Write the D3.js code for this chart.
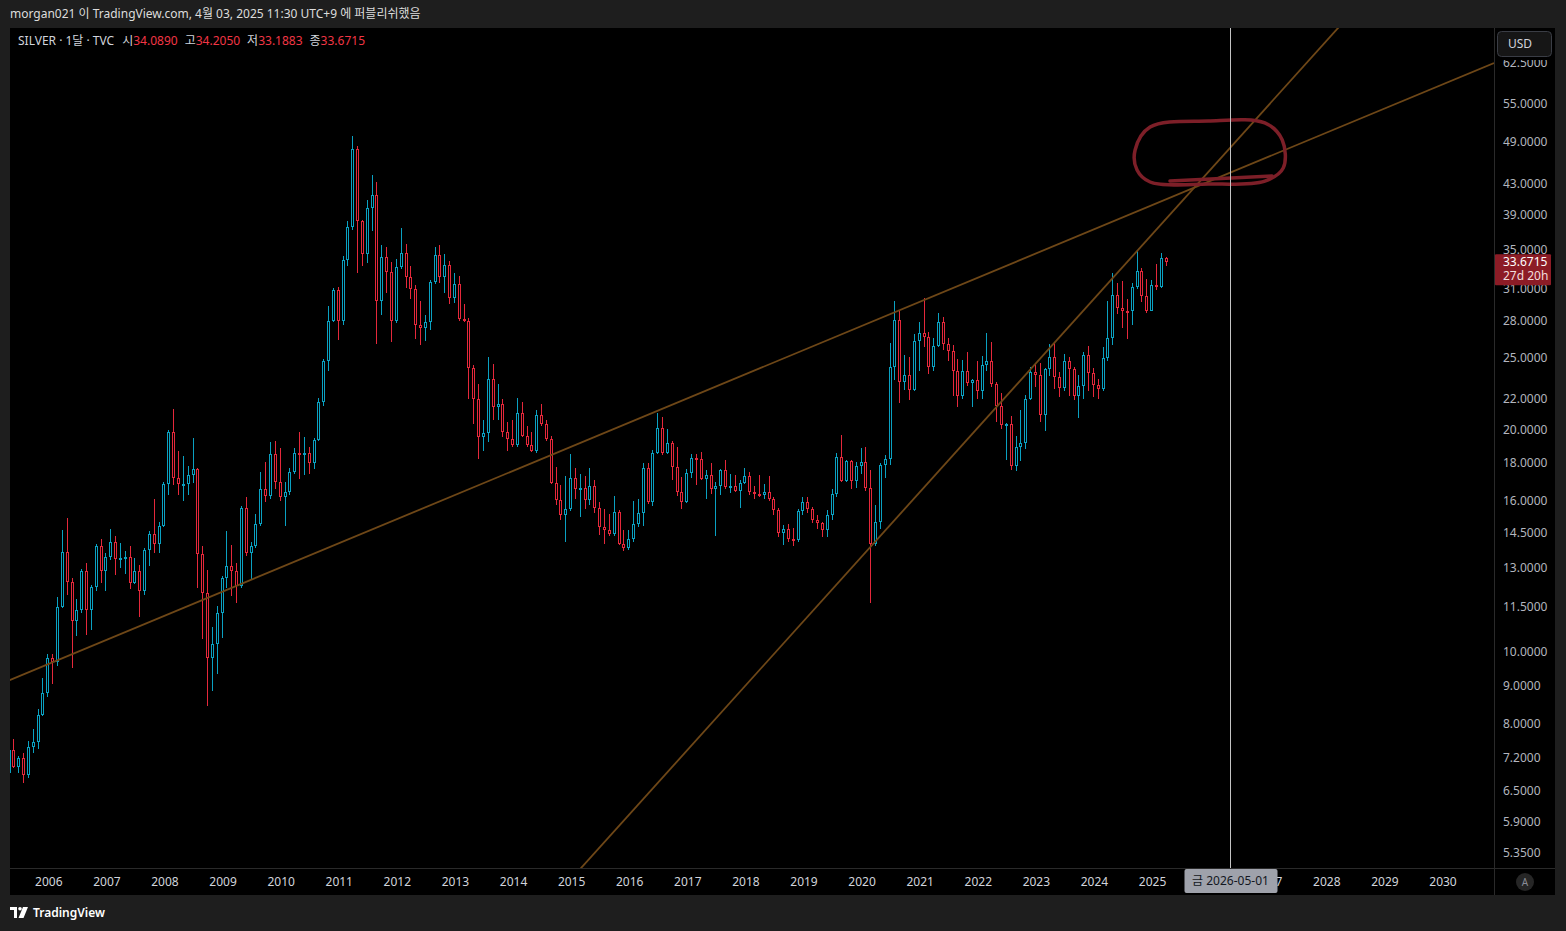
<!DOCTYPE html>
<html>
<head>
<meta charset="utf-8">
<script src="https://cdn.jsdelivr.net/npm/d3@7"></script>
<style>
  html, body { margin: 0; padding: 0; background: #1e1e1e; overflow: hidden; }
  svg { display: block; font-family: "Noto Sans", "Noto Sans CJK KR", sans-serif; }
</style>
</head>
<body>
<div id="chart"></div>
<script>
// Monthly candles of TVC:SILVER, first bar = 2005-05 (month index -8, 0 = Jan 2006)
const firstIndex = -8;

const opens = [
  6.87, 7.37, 7.00, 7.20, 6.81, 7.43, 7.56, 8.22,
  8.80, 9.82, 9.68, 11.50, 13.65, 12.45, 11.00, 11.40, 12.85, 11.40, 12.24, 13.90,
  12.85, 13.45, 14.10, 13.35, 13.40, 13.45, 12.40, 12.85, 12.10, 13.75, 14.45, 14.00,
  14.80, 16.85, 19.80, 17.20, 16.85, 16.85, 17.33, 17.65, 13.55, 12.00, 9.80, 10.25,
  11.30, 12.60, 13.07, 12.88, 12.29, 15.65, 13.60, 13.90, 14.90, 16.60, 16.25, 18.50,
  16.95, 16.20, 16.45, 17.50, 18.60, 18.45, 18.55, 18.00, 19.35, 21.80, 24.70, 28.00,
  30.85, 28.00, 33.85, 37.50, 47.80, 38.25, 34.55, 39.80, 41.45, 29.80, 34.20, 32.60,
  28.00, 33.10, 34.60, 32.15, 30.90, 27.70, 27.40, 27.90, 31.60, 34.40, 32.10, 33.30,
  30.10, 31.40, 28.20, 28.00, 24.20, 22.00, 19.50, 19.75, 23.40, 21.45, 21.65, 19.80,
  19.40, 19.05, 21.05, 19.60, 19.05, 18.70, 20.90, 20.30, 19.40, 16.90, 16.05, 15.30,
  15.60, 17.20, 16.60, 16.65, 16.05, 16.75, 15.65, 14.75, 14.60, 14.45, 15.45, 14.00,
  13.80, 14.20, 14.90, 15.40, 17.75, 15.95, 18.60, 20.10, 18.55, 19.15, 17.80, 16.45,
  15.95, 17.45, 18.30, 18.25, 17.15, 17.35, 16.60, 16.75, 17.60, 16.70, 16.75, 16.50,
  16.90, 17.30, 16.45, 16.35, 16.30, 16.45, 16.10, 15.55, 14.50, 14.65, 14.20, 14.15,
  15.50, 15.95, 15.60, 15.10, 14.95, 14.60, 15.30, 16.35, 18.35, 17.00, 18.10, 17.00,
  17.85, 18.05, 16.65, 14.00, 15.00, 17.90, 18.25, 24.25, 28.10, 23.20, 23.70, 22.60,
  26.35, 26.95, 26.65, 24.30, 25.90, 27.95, 26.10, 25.50, 23.95, 22.15, 23.95, 23.10,
  23.30, 22.50, 24.40, 24.75, 23.00, 21.50, 20.25, 20.35, 17.85, 18.90, 19.15, 22.00,
  23.90, 23.65, 20.90, 24.10, 25.05, 23.55, 22.75, 24.75, 24.15, 22.20, 22.90, 25.20,
  23.80, 22.95, 22.65, 24.95, 26.55, 30.40, 29.15, 28.90, 28.85, 31.15, 32.70, 30.25,
  28.90, 31.30, 31.15, 34.089
];

const highs = [
  7.46, 7.62, 7.23, 7.30, 7.59, 7.88, 8.37, 9.22,
  9.93, 9.95, 11.87, 14.60, 15.15, 12.60, 11.80, 12.95, 13.20, 12.30, 14.00, 14.20,
  13.60, 14.65, 14.35, 14.05, 13.70, 13.90, 13.40, 13.10, 13.80, 14.55, 16.10, 15.00,
  16.95, 19.95, 21.30, 18.70, 18.40, 17.85, 19.45, 17.75, 13.90, 12.90, 10.80, 11.55,
  12.65, 14.55, 13.95, 13.20, 15.75, 16.20, 14.10, 15.35, 17.50, 18.05, 19.20, 19.30,
  18.85, 16.95, 17.75, 18.85, 19.80, 19.55, 18.95, 19.45, 22.05, 24.90, 29.35, 31.05,
  31.15, 34.30, 38.20, 49.80, 48.20, 38.40, 40.80, 44.10, 43.20, 35.50, 35.30, 33.60,
  34.00, 37.45, 35.60, 33.20, 31.30, 29.80, 28.50, 31.80, 35.30, 35.50, 34.50, 33.80,
  32.50, 32.20, 29.50, 28.30, 24.40, 23.00, 20.60, 25.00, 24.50, 23.00, 22.00, 20.45,
  20.60, 22.05, 21.80, 20.20, 19.80, 21.20, 21.60, 20.60, 19.60, 17.80, 16.80, 17.30,
  18.50, 17.70, 17.40, 17.30, 17.70, 17.05, 15.95, 15.60, 15.35, 16.25, 15.55, 14.60,
  14.60, 16.00, 16.10, 18.00, 18.00, 18.75, 21.05, 20.75, 20.00, 19.30, 18.95, 17.25,
  17.65, 18.50, 18.50, 18.65, 17.60, 18.00, 16.95, 17.65, 18.20, 17.40, 17.35, 17.10,
  17.70, 17.50, 16.75, 17.35, 16.85, 17.30, 16.20, 15.65, 14.85, 14.90, 14.70, 15.60,
  16.20, 16.20, 15.70, 15.30, 15.00, 15.55, 16.60, 18.60, 19.65, 18.20, 18.20, 18.05,
  18.85, 18.95, 17.60, 15.80, 18.00, 18.45, 26.15, 29.80, 28.90, 25.20, 25.00, 26.90,
  27.95, 30.10, 27.10, 26.60, 28.75, 28.35, 26.60, 26.00, 24.85, 24.80, 25.40, 23.40,
  24.70, 25.10, 26.95, 26.20, 23.20, 22.40, 20.40, 20.85, 19.60, 21.25, 22.25, 24.30,
  24.55, 24.60, 24.20, 26.10, 26.15, 23.90, 25.25, 25.00, 24.30, 23.70, 25.40, 25.90,
  24.20, 23.40, 25.80, 29.80, 32.50, 31.55, 31.75, 30.00, 31.50, 34.85, 33.00, 31.90,
  31.80, 33.40, 34.60, 34.205
];

const lows = [
  6.82, 6.98, 6.87, 6.66, 6.76, 7.31, 7.40, 8.20,
  8.70, 9.05, 9.58, 11.45, 11.95, 9.50, 10.50, 11.30, 10.55, 10.70, 12.10, 12.40,
  12.10, 13.30, 12.70, 13.00, 12.75, 12.15, 12.35, 11.15, 11.95, 13.05, 13.60, 13.60,
  14.75, 16.30, 16.80, 16.30, 16.00, 16.30, 16.90, 12.20, 10.40, 8.45, 8.85, 9.35,
  10.45, 12.20, 11.90, 11.65, 12.20, 13.50, 12.50, 13.80, 14.80, 15.95, 16.10, 16.60,
  16.00, 14.80, 16.30, 17.40, 17.15, 17.35, 17.38, 17.65, 19.30, 21.50, 23.95, 27.90,
  26.40, 27.70, 33.20, 37.20, 32.50, 33.20, 33.50, 37.10, 26.10, 28.50, 30.60, 26.20,
  27.80, 32.90, 31.00, 30.00, 26.50, 26.00, 26.30, 27.20, 31.40, 31.50, 30.60, 29.50,
  29.60, 28.00, 27.90, 22.00, 20.35, 18.25, 18.70, 19.20, 20.60, 20.55, 19.50, 18.70,
  18.90, 18.95, 19.50, 18.90, 18.65, 18.60, 20.20, 19.25, 16.85, 15.80, 15.10, 14.10,
  15.50, 16.10, 15.20, 15.60, 15.80, 15.40, 14.40, 14.00, 14.35, 14.35, 13.95, 13.70,
  13.75, 14.10, 14.75, 14.80, 15.85, 15.75, 18.50, 18.45, 18.50, 17.10, 16.25, 15.60,
  15.90, 17.20, 16.80, 17.10, 16.10, 16.35, 14.35, 16.30, 16.60, 16.40, 16.45, 15.65,
  16.85, 16.30, 16.10, 16.20, 16.10, 16.00, 15.30, 14.30, 13.95, 14.10, 13.90, 14.10,
  15.30, 15.40, 14.95, 14.65, 14.30, 14.30, 15.10, 16.20, 16.95, 16.95, 16.60, 16.65,
  17.40, 16.50, 11.65, 13.90, 14.65, 17.20, 17.90, 23.30, 21.70, 22.60, 21.90, 22.50,
  24.00, 25.80, 23.75, 24.00, 25.80, 25.55, 24.70, 22.20, 21.40, 21.95, 22.90, 21.40,
  22.00, 22.00, 24.00, 22.80, 20.45, 20.00, 18.15, 17.60, 17.55, 18.10, 18.80, 21.90,
  22.80, 20.45, 19.90, 23.60, 22.70, 22.10, 22.55, 22.20, 21.90, 20.70, 22.00, 22.50,
  22.10, 21.95, 22.50, 24.70, 26.00, 28.60, 27.40, 26.45, 27.70, 30.90, 29.70, 28.75,
  28.85, 30.80, 31.00, 33.1883
];

const closes = [
  7.37, 7.00, 7.20, 6.81, 7.43, 7.56, 8.22, 8.80,
  9.82, 9.68, 11.50, 13.65, 12.45, 11.00, 11.40, 12.85, 11.40, 12.24, 13.90, 12.85,
  13.45, 14.10, 13.35, 13.40, 13.45, 12.40, 12.85, 12.10, 13.75, 14.45, 14.00, 14.80,
  16.85, 19.80, 17.20, 16.85, 16.85, 17.33, 17.65, 13.55, 12.00, 9.80, 10.25, 11.30,
  12.60, 13.07, 12.88, 12.29, 15.65, 13.60, 13.90, 14.90, 16.60, 16.25, 18.50, 16.95,
  16.20, 16.45, 17.50, 18.60, 18.45, 18.55, 18.00, 19.35, 21.80, 24.70, 28.00, 30.85,
  28.00, 33.85, 37.50, 47.80, 38.25, 34.55, 39.80, 41.45, 29.80, 34.20, 32.60, 28.00,
  33.10, 34.60, 32.15, 30.90, 27.70, 27.40, 27.90, 31.60, 34.40, 32.10, 33.30, 30.10,
  31.40, 28.20, 28.00, 24.20, 22.00, 19.50, 19.75, 23.40, 21.45, 21.65, 19.80, 19.40,
  19.05, 21.05, 19.60, 19.05, 18.70, 20.90, 20.30, 19.40, 16.90, 16.05, 15.30, 15.60,
  17.20, 16.60, 16.65, 16.05, 16.75, 15.65, 14.75, 14.60, 14.45, 15.45, 14.00, 13.80,
  14.20, 14.90, 15.40, 17.75, 15.95, 18.60, 20.10, 18.55, 19.15, 17.80, 16.45, 15.95,
  17.45, 18.30, 18.25, 17.15, 17.35, 16.60, 16.75, 17.60, 16.70, 16.75, 16.50, 16.90,
  17.30, 16.45, 16.35, 16.30, 16.45, 16.10, 15.55, 14.50, 14.65, 14.20, 14.15, 15.50,
  15.95, 15.60, 15.10, 14.95, 14.60, 15.30, 16.35, 18.35, 17.00, 18.10, 17.00, 17.85,
  18.05, 16.65, 14.00, 15.00, 17.90, 18.25, 24.25, 28.10, 23.20, 23.70, 22.60, 26.35,
  26.95, 26.65, 24.30, 25.90, 27.95, 26.10, 25.50, 23.95, 22.15, 23.95, 23.10, 23.30,
  22.50, 24.40, 24.75, 23.00, 21.50, 20.25, 20.35, 17.85, 18.90, 19.15, 22.00, 23.90,
  23.65, 20.90, 24.10, 25.05, 23.55, 22.75, 24.75, 24.15, 22.20, 22.90, 25.20, 23.80,
  22.95, 22.65, 24.95, 26.55, 30.40, 29.15, 28.90, 28.85, 31.15, 32.70, 30.25, 28.90,
  31.30, 31.15, 34.089, 33.6715
];

// axis ticks (2026 sits under the cursor's time label, so it is not listed)
const priceTicks = [62.5, 55, 49, 43, 39, 35, 31, 28, 25, 22, 20, 18, 16, 14.5, 13, 11.5, 10, 9, 8, 7.2, 6.5, 5.9, 5.35];
const yearTicks = [2006, 2007, 2008, 2009, 2010, 2011, 2012, 2013, 2014, 2015, 2016, 2017, 2018,
                   2019, 2020, 2021, 2022, 2023, 2024, 2025, 2027, 2028, 2029, 2030];

// drawn trend lines: [month index, price] anchors, extended to the pane edges
const trendShallow = [[0, 9.63], [240, 43.29]];
const trendSteep = [[168, 13.45], [240, 44.81]];

// hand drawn marker round the crossing (month index, price)
const markerLoop = [[224.5, 47.68], [227.6, 51.21], [239.6, 52.18], [251.3, 51.86], [254.9, 49.18],
                    [255.1, 45.07], [251.3, 43.29], [239.6, 42.89], [227.6, 43.16], [224.9, 44.80]];
const markerTail = [[231.7, 43.29], [252.8, 43.97]];

const cursorMonth = 244; // 2026-05-01
const lastPrice = 33.6715;

const W = 1566, H = 931;
const pane = {left: 10, right: 1494, top: 28, bottom: 868};
const upColor = "#0aa1c1", downColor = "#e5283b";

const svg = d3.select("#chart").append("svg")
    .attr("width", W)
    .attr("height", H);

// frame
svg.append("rect").attr("width", W).attr("height", H).attr("fill", "#1e1e1e");
svg.append("rect")
    .attr("x", 10).attr("y", 28).attr("width", 1545).attr("height", 867)
    .attr("fill", "#000");

const x = d3.scaleLinear().domain([0, 240]).range([48.3, 1210.14]);
const y = d3.scaleLog().domain([5.35, 62.5]).range([853, 63]);

svg.append("clipPath").attr("id", "paneClip")
  .append("rect")
    .attr("x", pane.left).attr("y", pane.top)
    .attr("width", pane.right - pane.left).attr("height", pane.bottom - pane.top);

const plot = svg.append("g").attr("clip-path", "url(#paneClip)");

// candles
const candles = opens.map((o, i) => ({m: i + firstIndex, o: o, h: highs[i], l: lows[i], c: closes[i]}));
const px = d => Math.round(x(d.m));
const col = d => d.c >= d.o ? upColor : downColor;

plot.selectAll(".wick").data(candles).join("line")
    .attr("class", "wick")
    .attr("x1", d => px(d) - 0.5).attr("x2", d => px(d) - 0.5)
    .attr("y1", d => Math.round(y(d.h))).attr("y2", d => Math.round(y(d.l)))
    .attr("stroke", col).attr("stroke-width", 1);

plot.selectAll(".body").data(candles).join("rect")
    .attr("class", "body")
    .attr("x", d => px(d) - 1.5)
    .attr("width", 2)
    .attr("y", d => Math.round(y(Math.max(d.o, d.c))) + 0.5)
    .attr("height", d => Math.max(1, Math.round(y(Math.min(d.o, d.c))) - Math.round(y(Math.max(d.o, d.c))) - 1))
    .attr("fill", "#000")
    .attr("stroke", col).attr("stroke-width", 1);

// trend lines, extended in (month, log price) space
const mLeft = x.invert(pane.left - 5), mRight = x.invert(pane.right);
function extend(a) {
  const s = (Math.log(a[1][1]) - Math.log(a[0][1])) / (a[1][0] - a[0][0]);
  const at = m => [m, Math.exp(Math.log(a[0][1]) + s * (m - a[0][0]))];
  return [at(mLeft), at(mRight)];
}
const line = d3.line().x(d => x(d[0])).y(d => y(d[1]));
[trendShallow, trendSteep].forEach(t => {
  plot.append("path")
      .attr("d", line(extend(t)))
      .attr("fill", "none")
      .attr("stroke", "#6e4717")
      .attr("stroke-width", 1.8);
});

// hand drawn marker
plot.append("path")
    .attr("d", d3.line().x(d => x(d[0])).y(d => y(d[1])).curve(d3.curveCatmullRomClosed)(markerLoop))
    .attr("fill", "none").attr("stroke", "#7d1f28").attr("stroke-width", 3.5)
    .attr("stroke-linejoin", "round");
plot.append("path")
    .attr("d", line(markerTail))
    .attr("fill", "none").attr("stroke", "#7d1f28").attr("stroke-width", 3.5)
    .attr("stroke-linecap", "round");

// crosshair
svg.append("line")
    .attr("x1", Math.round(x(cursorMonth)) + 0.5).attr("x2", Math.round(x(cursorMonth)) + 0.5)
    .attr("y1", pane.top).attr("y2", pane.bottom)
    .attr("stroke", "#c4c4c4").attr("stroke-width", 1);

// separators
svg.append("line").attr("x1", 1494.5).attr("x2", 1494.5).attr("y1", 28).attr("y2", 895)
    .attr("stroke", "#2a2a2a");
svg.append("line").attr("x1", 10).attr("x2", 1555).attr("y1", 868.5).attr("y2", 868.5)
    .attr("stroke", "#2a2a2a");

// price axis
const yAxis = svg.append("g")
    .attr("transform", "translate(1495,0)")
    .call(d3.axisRight(y).tickValues(priceTicks).tickFormat(d3.format(".4f")).tickSize(0).tickPadding(8));
yAxis.select(".domain").remove();
yAxis.selectAll("text").attr("fill", "#b2b5be").attr("font-size", 12)
    .attr("font-family", "Noto Sans, sans-serif");

// time axis
const xAxis = svg.append("g")
    .attr("transform", `translate(0,${pane.bottom})`)
    .call(d3.axisBottom(x).tickValues(yearTicks.map(yr => (yr - 2006) * 12))
        .tickFormat((d, i) => yearTicks[i]).tickSize(0).tickPadding(9));
xAxis.select(".domain").remove();
xAxis.selectAll("text").attr("fill", "#d1d4dc").attr("font-size", 12)
    .attr("font-family", "Noto Sans, sans-serif");

// USD box (covers the top of the highest price label)
svg.append("rect").attr("x", 1495).attr("y", 28).attr("width", 58).attr("height", 32).attr("fill", "#000");
svg.append("rect")
    .attr("x", 1497.5).attr("y", 31.5).attr("width", 54).attr("height", 25).attr("rx", 4)
    .attr("fill", "#161616").attr("stroke", "#3a3d45");
svg.append("text").attr("x", 1508).attr("y", 44).attr("dy", "0.35em")
    .attr("fill", "#d1d4dc").attr("font-size", 12).text("USD");

// last price label
const yLast = y(lastPrice);
svg.append("rect")
    .attr("x", 1495).attr("y", yLast - 7.5).attr("width", 56).attr("height", 31).attr("rx", 1)
    .attr("fill", "#8c1c26");
svg.append("text").attr("x", 1503).attr("y", yLast).attr("dy", "0.35em")
    .attr("fill", "#ffffff").attr("font-size", 12).text(d3.format(".4f")(lastPrice));
svg.append("text").attr("x", 1503).attr("y", yLast + 14.5).attr("dy", "0.35em")
    .attr("fill", "#f2dede").attr("font-size", 12).text("27d 20h");

// cursor time label
const cx = Math.round(x(cursorMonth)) + 0.5;
svg.append("rect")
    .attr("x", cx - 46).attr("y", 869).attr("width", 93).attr("height", 24).attr("rx", 2)
    .attr("fill", "#9fa2ab");
svg.append("text").attr("x", cx).attr("y", 881).attr("dy", "0.35em")
    .attr("text-anchor", "middle").attr("fill", "#131722").attr("font-size", 12)
    .text("금 2026-05-01");

// auto scale button
svg.append("circle").attr("cx", 1525).attr("cy", 882).attr("r", 9).attr("fill", "#262626");
svg.append("text").attr("x", 1525).attr("y", 882).attr("dy", "0.35em").attr("text-anchor", "middle")
    .attr("fill", "#8a8d96").attr("font-size", 10).text("A");

// header
svg.append("text").attr("x", 10).attr("y", 14).attr("dy", "0.35em")
    .attr("fill", "#dcdcdc").attr("font-size", 12)
    .text("morgan021 이 TradingView.com, 4월 03, 2025 11:30 UTC+9 에 퍼블리쉬했음");

// legend
const legend = svg.append("text").attr("x", 18).attr("y", 41).attr("dy", "0.35em")
    .attr("font-size", 12).attr("fill", "#d1d4dc");
legend.append("tspan").text("SILVER · 1달 · TVC");
const legendItems = [["시", opens[opens.length - 1]], ["고", highs[highs.length - 1]],
                     ["저", lows[lows.length - 1]], ["종", closes[closes.length - 1]]];
legendItems.forEach((it, i) => {
  legend.append("tspan").attr("dx", i === 0 ? 8 : 7).attr("fill", "#d1d4dc").text(it[0]);
  legend.append("tspan").attr("fill", "#f23645").text(d3.format(".4f")(it[1]));
});

// footer logo
const logo = svg.append("g").attr("transform", "translate(10,907)").attr("fill", "#ffffff");
logo.append("path").attr("d", "M0 0 H7 V11 H4 V3 H0 Z");
logo.append("circle").attr("cx", 10).attr("cy", 1.8).attr("r", 1.8);
logo.append("path").attr("d", "M13 0 H18 L13.5 11 H8.5 Z");
svg.append("text").attr("x", 33).attr("y", 913).attr("dy", "0.35em")
    .attr("fill", "#ffffff").attr("font-size", 12).attr("font-weight", 600).text("TradingView");
</script>
</body>
</html>
